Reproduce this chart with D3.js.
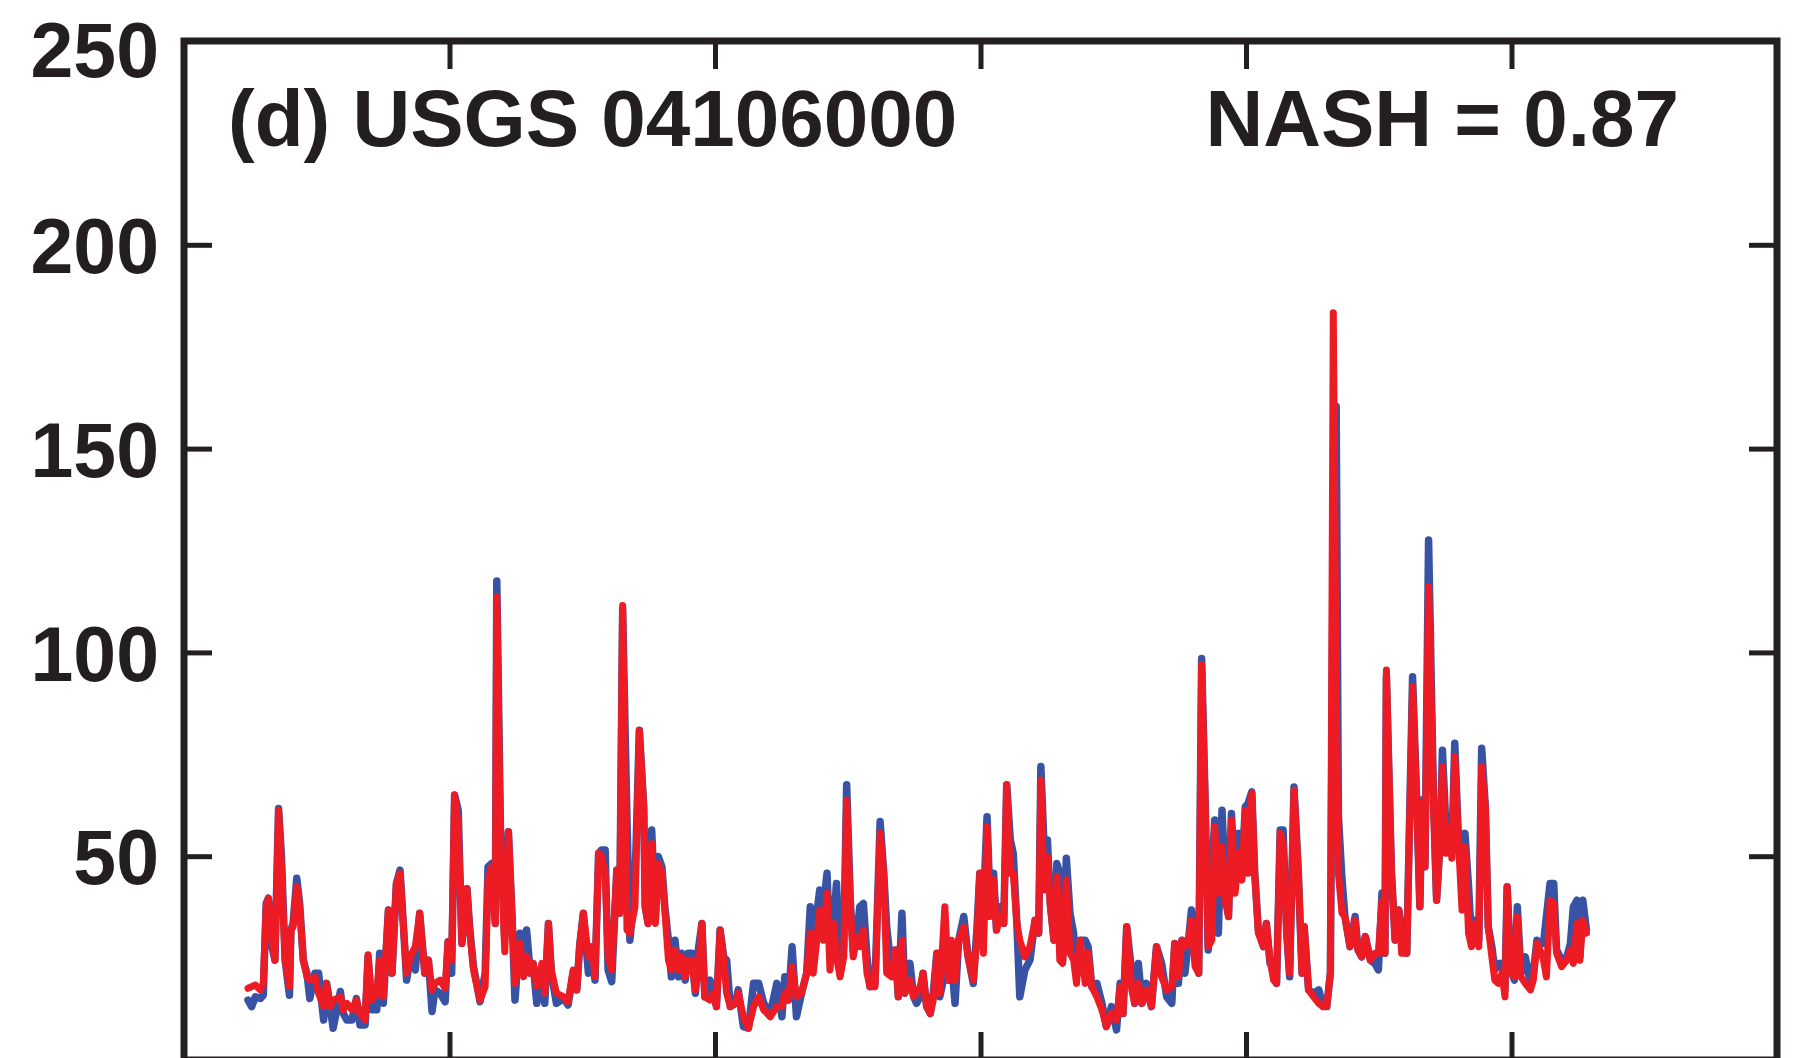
<!DOCTYPE html>
<html>
<head>
<meta charset="utf-8">
<script src="https://cdn.jsdelivr.net/npm/d3@7/dist/d3.min.js"></script>
<style>
  html, body { margin: 0; padding: 0; background: #ffffff; }
  svg { display: block; }
  text { font-family: "Liberation Sans", Arial, Helvetica, sans-serif; font-weight: bold; fill: #231f20; }
</style>
</head>
<body>
<svg id="chart" width="1811" height="1058"></svg>
<script>
// Daily streamflow, USGS gauge 04106000: observed vs. simulated.
// Time in days from the start of the six-year window.
const days = [
  88, 93, 98, 105, 109, 113, 116, 121, 125, 130, 134, 139, 145, 147, 150, 155, 159, 164, 169, 173,
  180, 185, 192, 196, 201, 205, 215, 219, 224, 231, 237, 242, 249, 253, 258, 265, 269, 274, 281, 286,
  292, 297, 302, 306, 311, 318, 324, 331, 336, 341, 345, 352, 359, 363, 368, 372, 377, 382, 389, 393,
  398, 407, 414, 418, 423, 428, 430, 435, 441, 446, 451, 455, 462, 467, 471, 476, 480, 485, 492, 496,
  501, 505, 512, 522, 528, 535, 540, 544, 549, 556, 561, 565, 570, 574, 579, 583, 588, 595, 599, 603,
  609, 613, 620, 626, 632, 634, 638, 643, 648, 652, 657, 661, 666, 670, 675, 680, 684, 689, 693, 698,
  703, 707, 712, 716, 723, 728, 732, 737, 742, 746, 751, 758, 762, 769, 776, 783, 790, 797, 806, 815,
  822, 826, 831, 836, 842, 849, 856, 861, 865, 870, 874, 879, 884, 888, 893, 897, 902, 907, 911, 916,
  920, 925, 929, 934, 939, 943, 950, 957, 962, 966, 973, 978, 982, 987, 991, 998, 1003, 1007, 1012, 1016,
  1021, 1026, 1030, 1035, 1039, 1046, 1051, 1055, 1060, 1065, 1072, 1078, 1085, 1090, 1094, 1099, 1104, 1108, 1113, 1117,
  1122, 1127, 1131, 1136, 1140, 1145, 1149, 1156, 1163, 1170, 1175, 1178, 1182, 1187, 1191, 1196, 1200, 1204, 1208, 1213,
  1218, 1223, 1227, 1232, 1239, 1243, 1248, 1255, 1262, 1268, 1275, 1282, 1287, 1291, 1296, 1303, 1307, 1312, 1317, 1323,
  1330, 1337, 1344, 1351, 1358, 1362, 1367, 1372, 1376, 1381, 1385, 1390, 1395, 1399, 1404, 1408, 1413, 1417, 1422, 1427,
  1431, 1436, 1440, 1445, 1450, 1454, 1459, 1463, 1468, 1472, 1477, 1484, 1488, 1493, 1498, 1502, 1507, 1511, 1516, 1520,
  1526, 1532, 1537, 1540, 1546, 1553, 1560, 1566, 1571, 1576, 1580, 1584, 1587, 1592, 1596, 1603, 1610, 1614, 1619, 1624,
  1631, 1637, 1642, 1647, 1651, 1653, 1660, 1665, 1670, 1674, 1681, 1689, 1695, 1699, 1702, 1706, 1711, 1718, 1722, 1727,
  1730, 1735, 1740, 1743, 1747, 1752, 1757, 1761, 1766, 1770, 1775, 1780, 1784, 1789, 1793, 1798, 1802, 1807, 1812, 1816,
  1819, 1824, 1829, 1833, 1838, 1844, 1851, 1855, 1860, 1864, 1869, 1873, 1878, 1883, 1887, 1894, 1901, 1906, 1910, 1915,
  1919, 1923, 1928
];

// Observed discharge (blue)
const observed = [
  14.7, 13.1, 15.5, 15.1, 15.9, 38.4, 39.7, 27.8, 24.5, 61.7, 49.9, 24.5, 15.9, 31.9, 33.5, 44.6, 38.4, 24.5, 21.3, 15.1,
  21.3, 21.3, 9.8, 18.8, 13.1, 7.8, 16.8, 11.4, 9.8, 9.8, 15.1, 8.6, 8.6, 25.3, 12.3, 12.3, 26.2, 13.9, 36.8, 21.3,
  43.3, 46.6, 31.9, 19.6, 25.3, 22.1, 36.0, 21.3, 24.5, 11.9, 17.2, 16.4, 14.3, 29.0, 21.3, 65.0, 61.3, 28.6, 42.0, 31.9,
  22.9, 14.3, 21.3, 47.4, 48.2, 33.5, 117.5, 57.2, 29.4, 56.0, 35.2, 14.7, 31.1, 21.3, 31.9, 21.3, 23.7, 13.9, 22.1, 13.9,
  33.5, 21.3, 13.9, 15.1, 13.5, 21.3, 17.2, 28.2, 36.0, 21.3, 25.3, 19.6, 50.7, 51.5, 51.5, 22.1, 19.2, 46.6, 36.0, 110.5,
  58.9, 29.4, 43.3, 80.9, 62.1, 37.6, 33.5, 56.4, 34.3, 49.9, 47.4, 37.6, 29.4, 20.4, 29.4, 20.4, 26.2, 19.6, 26.2, 26.2,
  16.4, 27.0, 33.5, 15.5, 19.6, 16.4, 13.1, 31.9, 25.3, 24.5, 13.1, 13.9, 17.2, 8.2, 7.8, 18.8, 18.8, 13.9, 11.4, 18.8,
  10.6, 20.4, 14.7, 27.8, 10.6, 16.4, 21.3, 37.6, 29.4, 36.0, 41.7, 37.6, 45.8, 27.0, 33.5, 43.3, 21.3, 27.8, 67.5, 39.2,
  27.0, 30.3, 37.6, 38.4, 25.3, 18.0, 18.8, 58.5, 45.8, 32.7, 21.3, 27.0, 15.5, 36.0, 16.4, 23.7, 15.5, 13.9, 15.5, 21.3,
  13.1, 11.4, 16.4, 26.2, 15.5, 21.3, 19.6, 24.5, 13.9, 29.4, 35.2, 25.3, 18.8, 31.9, 45.8, 37.6, 59.7, 39.2, 45.8, 31.9,
  37.6, 33.5, 67.5, 54.0, 50.7, 33.5, 15.5, 22.1, 24.5, 34.3, 31.1, 72.0, 54.0, 54.0, 38.4, 29.4, 48.2, 45.8, 24.5, 49.5,
  36.0, 31.1, 21.3, 29.4, 29.4, 27.8, 18.0, 18.8, 13.9, 8.2, 13.1, 7.4, 18.8, 11.4, 32.7, 21.3, 13.9, 23.7, 13.9, 18.8,
  13.1, 27.8, 23.7, 15.5, 13.9, 28.6, 18.8, 29.4, 21.3, 29.4, 36.8, 29.4, 21.3, 98.5, 62.1, 27.0, 45.8, 58.9, 31.1, 61.3,
  45.8, 35.2, 60.5, 42.5, 55.6, 44.2, 62.1, 63.0, 65.8, 45.8, 31.9, 27.8, 33.5, 23.7, 22.9, 18.8, 56.4, 56.4, 31.1, 20.4,
  67.0, 45.8, 21.3, 32.7, 17.2, 16.4, 17.2, 13.1, 13.1, 21.3, 130.0, 160.3, 60.0, 44.2, 35.2, 27.8, 35.2, 27.0, 25.3, 30.3,
  24.5, 23.7, 22.1, 41.0, 26.2, 94.0, 45.8, 29.4, 36.8, 31.9, 26.2, 94.0, 62.1, 37.6, 63.8, 47.4, 127.6, 62.1, 39.2, 54.0,
  76.0, 56.4, 59.7, 50.7, 77.7, 54.0, 45.8, 55.6, 42.5, 29.4, 34.3, 29.4, 76.5, 62.1, 32.7, 27.8, 22.1, 23.7, 23.7, 17.2,
  42.5, 22.1, 19.6, 37.6, 21.3, 25.3, 18.8, 21.3, 29.4, 28.6, 28.6, 35.2, 43.3, 43.3, 27.0, 24.5, 25.3, 28.6, 37.6, 39.2,
  25.3, 39.2, 31.9
];

// Simulated discharge (red)
const simulated = [
  17.6, 18.0, 18.4, 17.2, 18.8, 37.6, 39.7, 29.4, 24.5, 61.3, 47.4, 24.5, 18.0, 31.9, 32.7, 42.5, 37.6, 24.5, 20.4, 19.6,
  20.4, 16.4, 13.1, 18.8, 13.1, 14.7, 15.5, 12.3, 13.9, 12.3, 14.7, 11.4, 9.8, 25.8, 14.7, 16.4, 24.5, 15.5, 36.8, 21.3,
  43.3, 45.8, 31.9, 21.3, 25.3, 27.8, 36.0, 21.3, 24.5, 17.2, 18.8, 19.6, 17.6, 29.0, 24.5, 65.0, 57.2, 28.6, 42.0, 31.1,
  22.1, 14.7, 18.0, 44.2, 47.4, 33.5, 113.5, 54.0, 26.6, 56.0, 35.2, 18.8, 28.6, 20.4, 25.3, 21.3, 23.7, 18.0, 23.7, 16.4,
  33.5, 22.1, 16.4, 15.5, 14.3, 22.1, 17.2, 28.2, 36.0, 25.3, 27.8, 20.4, 50.7, 49.9, 45.8, 25.3, 22.1, 46.6, 36.0, 111.5,
  31.9, 31.1, 37.6, 80.9, 62.1, 37.6, 33.5, 53.1, 33.5, 48.2, 45.8, 36.8, 24.5, 22.1, 27.0, 22.1, 25.3, 20.4, 24.5, 24.5,
  17.2, 21.3, 33.5, 15.5, 14.7, 16.4, 13.1, 31.9, 24.5, 16.4, 13.1, 13.9, 16.4, 10.6, 7.8, 13.1, 15.5, 12.3, 10.6, 13.1,
  13.1, 16.4, 14.7, 22.9, 15.5, 16.4, 21.3, 31.1, 21.3, 29.4, 36.8, 29.4, 40.9, 22.1, 33.5, 25.3, 20.4, 25.3, 63.8, 37.6,
  25.3, 30.3, 27.8, 31.9, 21.3, 18.0, 18.0, 55.6, 45.8, 21.3, 20.4, 27.0, 15.5, 29.4, 16.4, 19.6, 15.5, 16.4, 18.0, 21.3,
  13.1, 11.4, 14.7, 26.2, 16.4, 37.6, 19.6, 29.4, 19.6, 29.4, 32.7, 25.3, 19.6, 29.4, 45.8, 26.2, 57.2, 35.2, 44.2, 31.9,
  35.2, 33.5, 67.5, 45.8, 45.8, 33.5, 29.4, 25.3, 27.8, 34.3, 31.1, 68.7, 41.7, 49.9, 37.6, 29.4, 45.0, 24.5, 23.7, 44.2,
  26.2, 24.5, 18.8, 29.4, 18.8, 26.2, 18.0, 15.5, 12.3, 8.2, 11.4, 9.8, 18.0, 11.4, 32.7, 17.2, 13.9, 18.8, 13.9, 17.2,
  13.1, 27.8, 20.4, 17.2, 18.0, 28.6, 20.4, 29.4, 27.8, 29.4, 34.3, 22.9, 21.3, 97.0, 62.1, 27.8, 29.4, 57.2, 40.9, 52.3,
  39.2, 35.2, 58.9, 40.9, 50.7, 44.2, 61.3, 45.8, 65.4, 45.8, 31.1, 27.8, 33.5, 24.5, 19.6, 18.8, 55.6, 53.1, 31.1, 21.3,
  66.2, 45.8, 21.3, 32.7, 17.2, 15.5, 13.9, 13.1, 13.1, 21.3, 183.3, 90.0, 45.8, 36.0, 35.2, 27.8, 34.3, 27.0, 25.3, 30.3,
  24.5, 26.2, 26.2, 39.2, 26.2, 95.7, 45.8, 29.4, 36.8, 26.2, 26.2, 91.6, 62.1, 37.6, 63.0, 47.4, 116.1, 62.1, 39.2, 54.0,
  72.0, 50.7, 57.2, 49.5, 74.4, 54.0, 36.8, 52.3, 31.1, 27.8, 33.5, 27.8, 72.0, 62.1, 32.7, 25.3, 19.6, 18.8, 21.3, 15.5,
  42.5, 22.1, 20.4, 35.2, 20.4, 18.8, 17.2, 19.6, 28.6, 27.0, 24.5, 20.4, 39.2, 38.4, 26.2, 22.9, 24.5, 27.0, 23.7, 33.5,
  24.5, 34.3, 31.1
];

// Axis ticks: one tick per year along x, 50 units along y
const xTicks = [365, 730, 1095, 1460, 1825];
const yTicks = [50, 100, 150, 200, 250];
const stationLabel = "(d) USGS 04106000";
const nashLabel = "NASH = 0.87";

const ink = "#231f20";
const svg = d3.select("#chart");

const x = d3.scaleLinear().domain([0, 2190]).range([184, 1777]);
const y = d3.scaleLinear().domain([0, 250]).range([1060, 41]);

const obsSeries = days.map((d, i) => ({ d, v: observed[i] }));
const simSeries = days.map((d, i) => ({ d, v: simulated[i] }));

const line = d3.line().x(p => x(p.d)).y(p => y(p.v));

svg.append("path")
  .datum(obsSeries)
  .attr("d", line)
  .attr("fill", "none")
  .attr("stroke", "#3953a4")
  .attr("stroke-width", 7.5)
  .attr("stroke-linejoin", "round")
  .attr("stroke-linecap", "round");

svg.append("path")
  .datum(simSeries)
  .attr("d", line)
  .attr("fill", "none")
  .attr("stroke", "#ed1c24")
  .attr("stroke-width", 7)
  .attr("stroke-linejoin", "round")
  .attr("stroke-linecap", "round");

// Inward ticks on all four sides
const tickLen = 28;
function styleAxis(g) {
  g.select(".domain").remove();
  g.selectAll(".tick line").attr("stroke", ink).attr("stroke-width", 5);
}

svg.append("g")
  .attr("transform", `translate(${x.range()[0]},0)`)
  .call(d3.axisLeft(y).tickValues(yTicks).tickSize(-tickLen).tickPadding(25).tickFormat(d3.format("d")))
  .call(styleAxis)
  .call(g => g.selectAll(".tick text")
    .attr("font-size", 77)
    .attr("fill", ink)
    .attr("dy", "0.36em")
    .attr("y", d => d === 250 ? 8 : 0));

svg.append("g")
  .attr("transform", `translate(${x.range()[1]},0)`)
  .call(d3.axisRight(y).tickValues(yTicks).tickSize(-tickLen).tickFormat(""))
  .call(styleAxis);

svg.append("g")
  .attr("transform", `translate(0,${y.range()[1]})`)
  .call(d3.axisTop(x).tickValues(xTicks).tickSize(-tickLen).tickFormat(""))
  .call(styleAxis);

svg.append("g")
  .attr("transform", `translate(0,${y.range()[0]})`)
  .call(d3.axisBottom(x).tickValues(xTicks).tickSize(-tickLen).tickFormat(""))
  .call(styleAxis);

// Plot frame
svg.append("rect")
  .attr("x", x.range()[0])
  .attr("y", y.range()[1])
  .attr("width", x.range()[1] - x.range()[0])
  .attr("height", y.range()[0] - y.range()[1])
  .attr("fill", "none")
  .attr("stroke", ink)
  .attr("stroke-width", 7);

// Panel annotations
svg.append("text")
  .attr("x", 228)
  .attr("y", 146)
  .attr("font-size", 80)
  .text(stationLabel);

svg.append("text")
  .attr("x", 1679)
  .attr("y", 146)
  .attr("font-size", 80)
  .attr("text-anchor", "end")
  .text(nashLabel);
</script>
</body>
</html>
